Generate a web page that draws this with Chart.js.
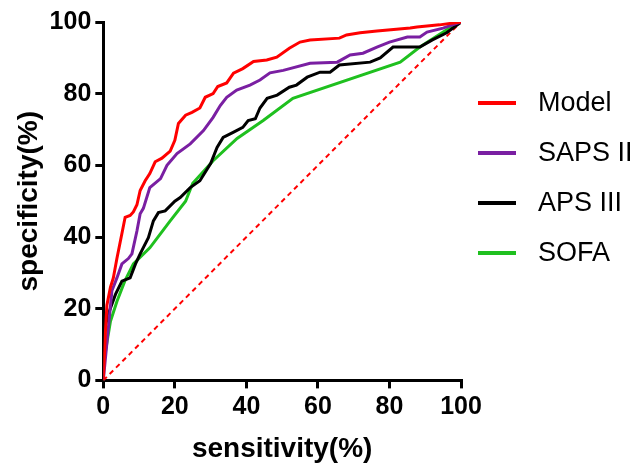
<!DOCTYPE html>
<html>
<head>
<meta charset="utf-8">
<script src="https://cdn.jsdelivr.net/npm/chart.js@4.4.0/dist/chart.umd.min.js"></script>
<style>
  html, body { margin: 0; padding: 0; background: #fff; }
  #wrap { width: 644px; height: 467px; }
</style>
</head>
<body>
<div id="wrap"><canvas id="rocChart"></canvas></div>
<script>
// Data kurva ROC
const seriesNames = ["Model", "SAPS II", "APS III", "SOFA"];
const seriesColors = ["#ff0000", "#7a1fa2", "#000000", "#1fc01f"];

const modelX = [0, 0.6, 1, 2, 2.8, 3.8, 5.2, 6.1, 7.5, 8.4, 9.4, 10.3, 11.7, 13, 14.5, 16.4, 18.7, 20, 21, 23, 24.8, 27, 28.5, 30.7, 32, 34.5, 36.4, 39, 42, 45.7, 48.5, 52, 55, 57.8, 66, 68, 71.8, 76.5, 85.8, 87.7, 94, 100];
const modelY = [0, 13.7, 21, 26, 28.6, 34, 41, 45.5, 46, 47, 49, 53, 55.7, 57.7, 61, 62, 64, 67, 71.7, 74, 74.8, 76, 79, 80, 82, 83, 85.7, 87, 89, 89.4, 90.2, 92.7, 94.4, 95, 95.5, 96.4, 97, 97.5, 98.3, 98.6, 99.2, 100];

const sapsX = [0, 2.4, 3.8, 5.2, 7, 8, 9.4, 10.3, 11.2, 13, 16, 17.8, 20.6, 24.3, 28, 30.7, 32.7, 34.5, 37.3, 41, 43.8, 46.6, 50.3, 57.8, 65.4, 69, 72.6, 76.5, 80, 85, 88.5, 90.5, 95, 100];
const sapsY = [0, 25, 28.6, 32.5, 34, 35.3, 41.7, 46.5, 48, 53.8, 56.3, 60, 63.3, 66, 69.7, 73.4, 76.7, 79, 81, 82.4, 83.8, 85.8, 86.5, 88.5, 88.8, 90.8, 91.3, 93, 94.4, 95.8, 95.8, 97.2, 98.3, 100];

const apsX = [0, 0, 1.4, 3.4, 5.2, 7.5, 9, 10.3, 12.6, 14, 15.4, 17.3, 20, 21.5, 24.3, 27, 30, 31.8, 33.5, 36.3, 39, 40.5, 42.5, 43.8, 45.8, 48.6, 52, 54, 57, 60.6, 63.4, 66, 74.6, 77.4, 81, 88.5, 92, 96, 100];
const apsY = [0, 13, 18.5, 24, 27.7, 28.6, 32.5, 35.3, 39.8, 44.5, 46.8, 47.3, 50, 51, 53.8, 55.7, 60.5, 65, 67.8, 69.2, 70.6, 72.5, 73, 76, 78.7, 79.6, 81.8, 82.4, 84.6, 86, 86, 88, 88.8, 90, 93, 93, 95, 97, 100];

const sofaX = [0, 0, 2, 3.8, 6, 8.4, 13, 18.7, 23, 25, 30.7, 37.4, 44.7, 53, 83, 88.5, 96, 100];
const sofaY = [0, 4.5, 16.5, 22, 27.7, 32.5, 37, 44.5, 50, 55, 61.3, 67.5, 72.5, 78.7, 88.8, 93, 97.8, 100];

const refX = [0, 100];
const refY = [0, 100];

const axisTicks = [0, 20, 40, 60, 80, 100];

function toPoints(xs, ys) {
  return xs.map((x, i) => ({ x: x, y: ys[i] }));
}

const curveData = [
  toPoints(modelX, modelY),
  toPoints(sapsX, sapsY),
  toPoints(apsX, apsY),
  toPoints(sofaX, sofaY),
];

const datasets = curveData.map((pts, i) => ({
  label: seriesNames[i],
  data: pts,
  borderColor: seriesColors[i],
  backgroundColor: seriesColors[i],
  borderWidth: 3,
  pointRadius: 0,
  showLine: true,
  tension: 0,
}));

// Garis diagonal referensi
datasets.push({
  label: "reference",
  data: toPoints(refX, refY),
  borderColor: "#ff0000",
  backgroundColor: "#ff0000",
  borderWidth: 2,
  borderDash: [5, 4],
  pointRadius: 0,
  showLine: true,
});

const fontFamily = "Liberation Sans, Arial, sans-serif";
const axisFont = { family: fontFamily, size: 25, weight: "bold" };
const titleFont = { family: fontFamily, size: 28, weight: "bold" };

// Legenda di sebelah kanan, digambar manual
const legendKanan = {
  id: "legendKanan",
  afterDraw(chart) {
    const ctx = chart.ctx;
    const area = chart.chartArea;
    ctx.save();
    ctx.font = "27px " + fontFamily;
    ctx.textBaseline = "middle";
    seriesNames.forEach((name, i) => {
      const y = area.top + 81 + i * 50;
      ctx.strokeStyle = seriesColors[i];
      ctx.lineWidth = 4;
      ctx.beginPath();
      ctx.moveTo(area.right + 17, y);
      ctx.lineTo(area.right + 55, y);
      ctx.stroke();
      ctx.fillStyle = "#000";
      ctx.fillText(name, area.right + 77, y + 1);
    });
    ctx.restore();
  },
};

new Chart(document.getElementById("rocChart").getContext("2d"), {
  type: "scatter",
  data: { datasets: datasets },
  options: {
    responsive: true,
    maintainAspectRatio: false,
    animation: false,
    layout: { padding: { left: 12, top: 22, right: 183, bottom: 1 } },
    plugins: {
      tooltip: { enabled: false },
      legend: { display: false },
    },
    scales: {
      x: {
        type: "linear",
        min: 0,
        max: 100,
        afterBuildTicks: (axis) => { axis.ticks = axisTicks.map((v) => ({ value: v })); },
        border: { display: true, color: "#000", width: 3 },
        grid: { drawOnChartArea: false, drawTicks: true, tickLength: 8, color: "#000", lineWidth: 3 },
        ticks: { color: "#000", font: axisFont, padding: 4, maxRotation: 0 },
        title: { display: true, text: "sensitivity(%)", color: "#000", font: titleFont, padding: { top: 6, bottom: 0 } },
      },
      y: {
        type: "linear",
        min: 0,
        max: 100,
        afterBuildTicks: (axis) => { axis.ticks = axisTicks.map((v) => ({ value: v })); },
        border: { display: true, color: "#000", width: 3 },
        grid: { drawOnChartArea: false, drawTicks: true, tickLength: 8, color: "#000", lineWidth: 3 },
        ticks: { color: "#000", font: axisFont, padding: 4 },
        title: { display: true, text: "specificity(%)", color: "#000", font: titleFont, padding: { top: 0, bottom: 0 } },
      },
    },
  },
  plugins: [legendKanan],
});
</script>
</body>
</html>
